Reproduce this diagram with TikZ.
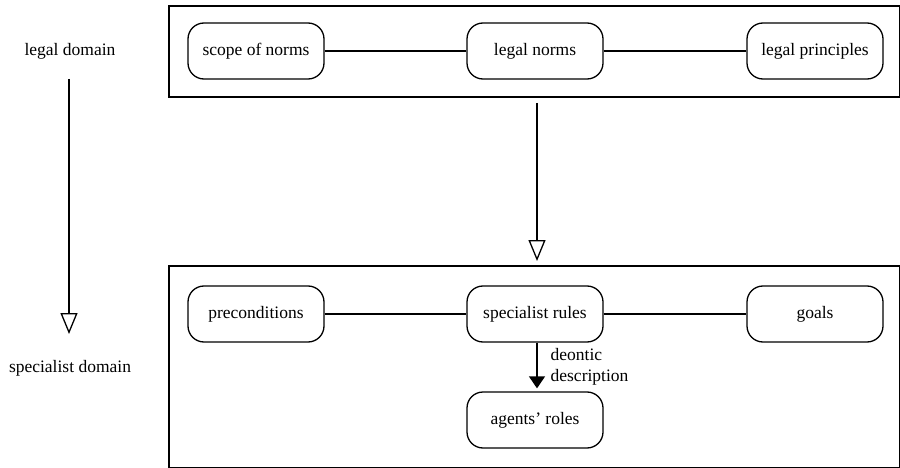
\documentclass[tikz,border=0pt]{standalone}
\usepackage{fontspec}
\setmainfont{Liberation Serif}
\usetikzlibrary{arrows.meta}
\begin{document}
\begin{tikzpicture}[x=1pt,y=-1pt,
  font=\fontsize{17.5}{21}\selectfont,
  line width=1.3pt,
  frame/.style={draw, line width=1.3pt},
  item/.style={draw, rounded corners=16pt, minimum width=136pt, minimum height=56pt, inner sep=0pt, line width=1.3pt},
  link/.style={draw, line width=1.3pt},
  refine/.style={-{Triangle[open, length=21pt, width=17pt, line width=1.3pt]}, line width=1.3pt},
  deontic/.style={-{Triangle[length=12pt, width=16pt]}, line width=1.3pt},
  side/.style={inner sep=0pt, anchor=center}]
  \useasboundingbox (0,0) rectangle (900,468);

  % domain frames
  \draw[frame] (169,6) rectangle (899.5,97);
  \draw[frame] (169,266) rectangle (899.5,467.5);

  % legal domain
  \node[item] (scope) at (256,51) {scope of norms};
  \node[item] (norms) at (535,51) {legal norms};
  \node[item] (princ) at (815,51) {legal principles};
  \draw[link] (scope) -- (norms);
  \draw[link] (norms) -- (princ);

  % specialist domain
  \node[item] (pre) at (256,314) {preconditions};
  \node[item] (rules) at (535,314) {specialist rules};
  \node[item] (goals) at (815,314) {goals};
  \node[item] (roles) at (535,420) {agents’ roles};
  \draw[link] (pre) -- (rules);
  \draw[link] (rules) -- (goals);
  \draw[deontic] (rules.south -| 537,0) -- ([shift={(2,-3)}]roles.north);
  \node[anchor=west, align=left, inner sep=0pt] (desc) at (550,367) {deontic\\description};

  % refinement from legal to specialist domain
  \coordinate (rtop) at (537,103);
  \coordinate (rbot) at (537,261);
  \draw[refine] (rtop) -- (rbot);

  % side labels
  \node[side] (legal) at (70,51) {legal domain};
  \node[side] (spec) at (70,368) {specialist domain};
  \coordinate (ltop) at (69,79);
  \coordinate (lbot) at (69,334);
  \draw[refine] (ltop) -- (lbot);
\end{tikzpicture}
\end{document}
